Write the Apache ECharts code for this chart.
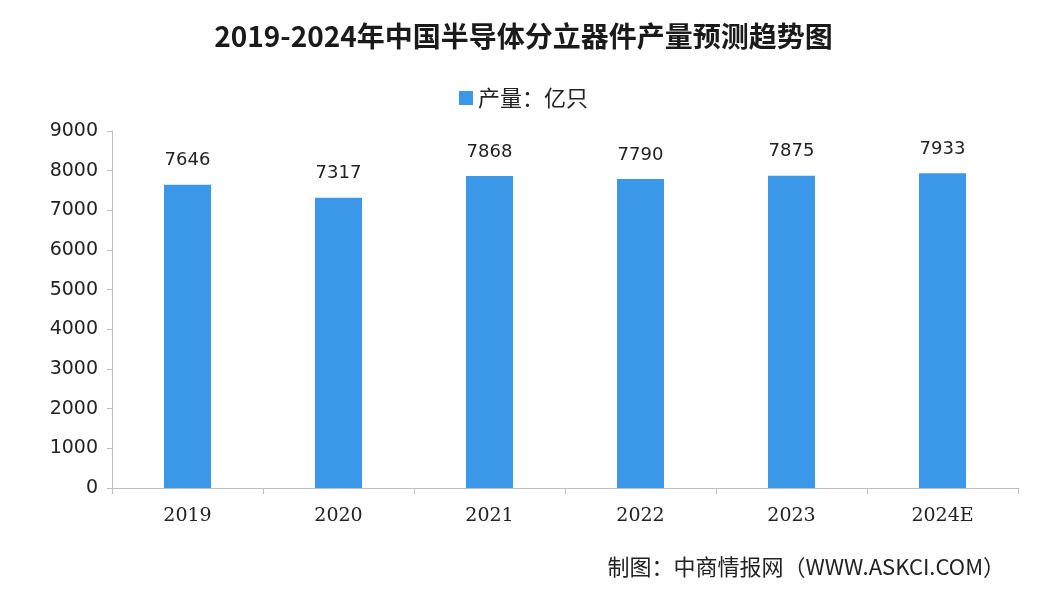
<!DOCTYPE html>
<html>
<head>
<meta charset="utf-8">
<script src="https://cdn.jsdelivr.net/npm/echarts@6/dist/echarts.min.js"></script>
<style>
html,body{margin:0;padding:0;background:#fff;}
#main{width:1047px;height:594px;}
</style>
</head>
<body>
<div id="main"></div>
<script>
const categories = ['2019', '2020', '2021', '2022', '2023', '2024E'];
const production = [7646, 7317, 7868, 7790, 7875, 7933];
const seriesName = '产量：亿只';
const titleText = '2019-2024年中国半导体分立器件产量预测趋势图';
const sourceText = '制图：中商情报网（WWW.ASKCI.COM）';

const chart = echarts.init(document.getElementById('main'));
chart.setOption({
  backgroundColor: '#ffffff',
  animation: false,
  title: {
    text: titleText,
    left: 'center',
    top: 17,
    textStyle: { fontFamily: 'Noto Sans CJK SC', fontSize: 28, fontWeight: 'bold', color: '#1a1a1a' }
  },
  legend: {
    top: 82,
    left: 'center',
    itemWidth: 14,
    itemHeight: 14,
    itemGap: 6,
    textStyle: { fontFamily: 'Noto Sans CJK SC', fontSize: 22, color: '#222' },
    data: [{ name: seriesName, icon: 'rect' }]
  },
  graphic: [{
    type: 'text',
    right: 42,
    top: 556,
    style: { text: sourceText, font: '22px "Noto Sans CJK SC"', fill: '#222' }
  }],
  grid: { left: 112, right: 29, top: 131, bottom: 106, containLabel: false },
  xAxis: {
    type: 'category',
    data: categories,
    axisLine: { lineStyle: { color: '#bfbfbf', width: 1 } },
    axisTick: { show: true, alignWithLabel: false, length: 6, lineStyle: { color: '#bfbfbf' } },
    axisLabel: { fontFamily: 'DejaVu Serif', fontSize: 19, color: '#222', margin: 19 }
  },
  yAxis: {
    type: 'value',
    min: 0,
    max: 9000,
    interval: 1000,
    splitLine: { show: false },
    axisLine: { show: true, lineStyle: { color: '#bfbfbf', width: 1 } },
    axisTick: { show: true, length: 5, lineStyle: { color: '#bfbfbf' } },
    axisLabel: { fontFamily: 'DejaVu Sans', fontSize: 19, color: '#222', margin: 14, formatter: function (v) { return String(v); } }
  },
  series: [{
    name: seriesName,
    type: 'bar',
    data: production,
    barWidth: 47,
    itemStyle: { color: '#3b98e8' },
    label: {
      show: true,
      position: 'top',
      distance: 15,
      fontFamily: 'DejaVu Sans',
      fontSize: 18,
      color: '#222'
    }
  }]
});
</script>
</body>
</html>
